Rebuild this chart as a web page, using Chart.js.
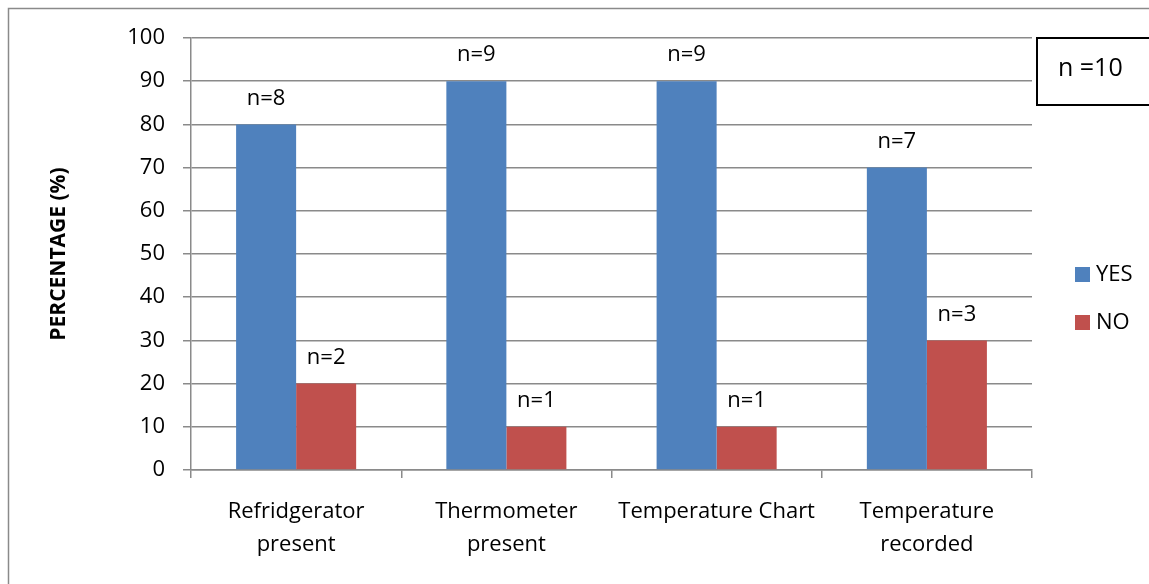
<!DOCTYPE html>
<html>
<head>
<meta charset="utf-8">
<script src="https://cdn.jsdelivr.net/npm/chart.js@4.4.0/dist/chart.umd.min.js"></script>
<style>
  html, body { margin: 0; padding: 0; background: #fff; }
  #wrap { width: 1149px; height: 584px; position: relative; }
</style>
</head>
<body>
<div id="wrap"><canvas id="chart" width="1149" height="584"></canvas></div>
<script>
// dados do gráfico
const categorias = [['Refridgerator', 'present'], ['Thermometer', 'present'], 'Temperature Chart', ['Temperature', 'recorded']];
const simPct = [80, 90, 90, 70];
const naoPct = [20, 10, 10, 30];
const simN = [8, 9, 9, 7];
const naoN = [2, 1, 1, 3];
const totalN = 10;

const FONTE = "'Open Sans', 'Noto Sans', sans-serif";
const CINZA = '#8a8a8a';

// desenha moldura, caixa "n =10", rótulos n= e legenda
const extras = {
    id: 'extras',
    afterDraw(chart) {
        const c = chart.ctx;
        c.save();
        // moldura externa
        c.strokeStyle = CINZA;
        c.lineWidth = 1.5;
        c.beginPath();
        c.moveTo(8.5, 584);
        c.lineTo(8.5, 8.5);
        c.lineTo(1149, 8.5);
        c.stroke();

        // caixa n =10
        c.strokeStyle = '#000';
        c.lineWidth = 2;
        c.strokeRect(1037, 38, 130, 67);
        c.fillStyle = '#000';
        c.font = '25px ' + FONTE;
        c.textAlign = 'left';
        c.textBaseline = 'middle';
        c.fillText('n =' + totalN, 1058, 69);

        // rótulos n= acima das barras
        c.font = '22px ' + FONTE;
        c.textAlign = 'center';
        c.textBaseline = 'middle';
        const rotulos = [simN, naoN];
        chart.data.datasets.forEach((ds, i) => {
            chart.getDatasetMeta(i).data.forEach((bar, j) => {
                c.fillText('n=' + rotulos[i][j], bar.x, bar.y - 26);
            });
        });

        // legenda
        c.font = '22px ' + FONTE;
        c.textAlign = 'left';
        chart.data.datasets.forEach((ds, i) => {
            const y = 267 + i * 48;
            c.fillStyle = ds.backgroundColor;
            c.fillRect(1075, y, 15, 15);
            c.fillStyle = '#000';
            c.fillText(ds.label, 1096, y + 8);
        });
        c.restore();
    }
};

const ctx = document.getElementById('chart').getContext('2d');
new Chart(ctx, {
    type: 'bar',
    data: {
        labels: categorias,
        datasets: [
            { label: 'YES', data: simPct, backgroundColor: '#4F81BD', categoryPercentage: 0.571, barPercentage: 1.0 },
            { label: 'NO', data: naoPct, backgroundColor: '#C0504D', categoryPercentage: 0.571, barPercentage: 1.0 }
        ]
    },
    options: {
        responsive: false,
        animation: false,
        events: [],
        layout: { padding: { left: 46, right: 117, top: 38, bottom: 0 } },
        plugins: { legend: { display: false }, tooltip: { enabled: false } },
        scales: {
            x: {
                grid: { drawOnChartArea: false, drawTicks: true, tickLength: 8, color: CINZA, lineWidth: 1.5 },
                border: { color: CINZA, width: 1.5 },
                ticks: { color: '#000', font: { family: FONTE, size: 22, lineHeight: 1.5 }, padding: 17, maxRotation: 0, autoSkip: false },
                afterFit(s) { s.height = 114; }
            },
            y: {
                min: 0, max: 100,
                ticks: { stepSize: 10, color: '#000', font: { family: FONTE, size: 22 }, padding: 18 },
                grid: { color: CINZA, lineWidth: 1.5, tickLength: 8 },
                border: { color: CINZA, width: 1.5 },
                title: { display: true, text: 'PERCENTAGE (%)', color: '#000', font: { family: FONTE, size: 21, weight: 'bold', lineHeight: 1.2 }, padding: 0 },
                afterFit(s) { s.width = 145; }
            }
        }
    },
    plugins: [extras]
});
</script>
</body>
</html>
